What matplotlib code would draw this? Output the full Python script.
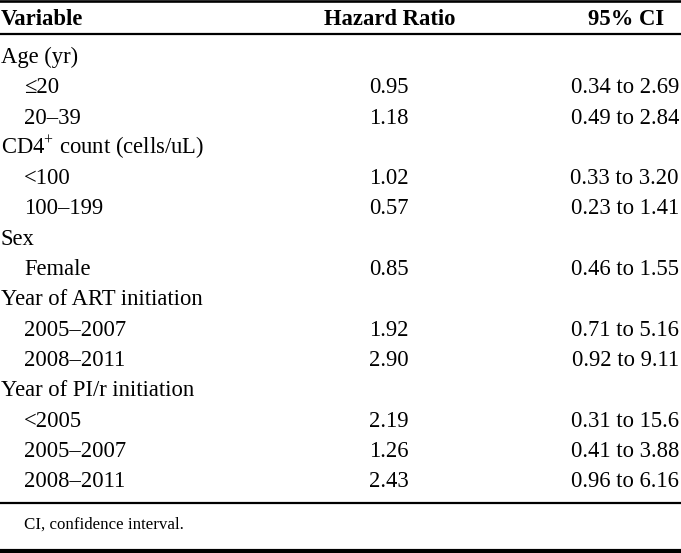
import matplotlib.pyplot as plt

plt.rcParams['font.family'] = ['Liberation Serif', 'DejaVu Serif']
plt.rcParams['mathtext.fontset'] = 'custom'
plt.rcParams['mathtext.rm'] = 'Liberation Serif'

# table content
headers = ['Variable', 'Hazard Ratio', '95% CI']
labels = ['Age (yr)', '\u226420', '20\u201339',
          'CD4$^{\\mathrm{+}}$ count (cells/uL)', '<100', '100\u2013199',
          'Sex', 'Female',
          'Year of ART initiation', '2005\u20132007', '2008\u20132011',
          'Year of PI/r initiation', '<2005', '2005\u20132007', '2008\u20132011']
indent = [0, 1, 1, 0, 1, 1, 0, 1, 0, 1, 1, 0, 1, 1, 1]
hazard = ['', '0.95', '1.18', '', '1.02', '0.57', '', '0.85',
          '', '1.92', '2.90', '', '2.19', '1.26', '2.43']
ci = ['', '0.34 to 2.69', '0.49 to 2.84', '', '0.33 to 3.20', '0.23 to 1.41',
      '', '0.46 to 1.55', '', '0.71 to 5.16', '0.92 to 9.11',
      '', '0.31 to 15.6', '0.41 to 3.88', '0.96 to 6.16']
footnote = 'CI, confidence interval.'

W, H = 681, 553
fig = plt.figure(figsize=(W / 100, H / 100), dpi=100)
ax = fig.add_axes([0, 0, 1, 1])
ax.set_xlim(0, W)
ax.set_ylim(H, 0)
ax.axis('off')

fs = 16.3
x_var, x_ind, x_hr, x_ci = 1, 24, 388.5, 679

# header
ax.text(x_var, 25, headers[0], fontsize=fs, fontweight='bold', va='baseline')
ax.text(390, 25, headers[1], fontsize=fs, fontweight='bold', va='baseline', ha='center')
ax.text(626, 25, headers[2], fontsize=fs, fontweight='bold', va='baseline', ha='center')

# rows
for i, lab in enumerate(labels):
    yb = 63 + 30.3 * i
    ax.text(x_ind if indent[i] else x_var, yb, lab, fontsize=fs, va='baseline')
    if hazard[i]:
        ax.text(x_hr, yb, hazard[i], fontsize=fs, va='baseline', ha='center')
    if ci[i]:
        ax.text(x_ci, yb, ci[i], fontsize=fs, va='baseline', ha='right')

ax.text(x_ind, 529, footnote, fontsize=12.2, va='baseline')

# rules
ax.axhline(1.2, color='black', lw=1.9)
ax.axhline(33.5, color='black', lw=1.6)
ax.axhline(503, color='black', lw=1.6)
ax.axhline(551, color='black', lw=3.0)

fig.savefig('out.png', dpi=100)
